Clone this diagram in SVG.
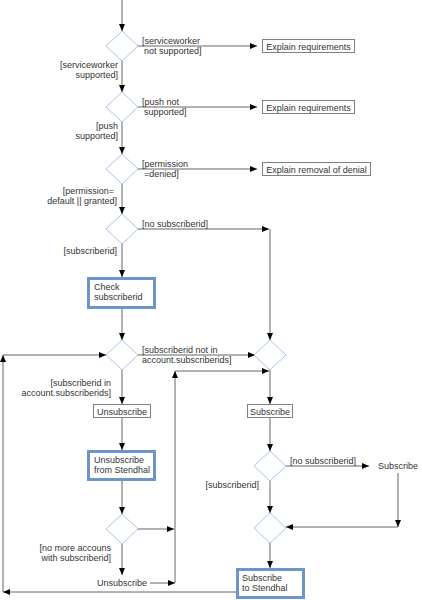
<svg xmlns="http://www.w3.org/2000/svg" width="422" height="600" viewBox="0 0 422 600">
<style>
text{font-family:"Liberation Sans",Arial,sans-serif;font-size:9px;fill:#333}
.d{fill:#fff;stroke:#a9c4eb;stroke-width:1}
.b{fill:#fff;stroke:#808080;stroke-width:1}
.t{fill:#fff;stroke:#6d95c9;stroke-width:3}
.c{fill:none;stroke:#666;stroke-width:1}
.r{text-anchor:end}
.m{text-anchor:middle}
</style>
<defs>
<marker id="a" markerUnits="userSpaceOnUse" markerWidth="7" markerHeight="6" refX="7" refY="3" orient="auto">
<path d="M0,0 L7,3 L0,6 z" fill="#000"/>
</marker>
</defs>
<g id="connectors" class="c" marker-end="url(#a)">
<path class="c" d="M122,0 V31" marker-end="url(#a)"/>
<path class="c" d="M138,46 H257" marker-end="url(#a)"/>
<path class="c" d="M122,61 V92" marker-end="url(#a)"/>
<path class="c" d="M138,107 H257" marker-end="url(#a)"/>
<path class="c" d="M122,122 V154" marker-end="url(#a)"/>
<path class="c" d="M138,169 H257" marker-end="url(#a)"/>
<path class="c" d="M122,184 V214" marker-end="url(#a)"/>
<path class="c" d="M138,229 H269" marker-end="url(#a)"/>
<path class="c" d="M270,229 V340" marker-end="url(#a)"/>
<path class="c" d="M122,244 V277" marker-end="url(#a)"/>
<path class="c" d="M122,309 V340" marker-end="url(#a)"/>
<path class="c" d="M138,355 H255" marker-end="url(#a)"/>
<path class="c" d="M236,592 H3" marker-end="url(#a)"/>
<path class="c" d="M3,592 V355" marker-end="url(#a)"/>
<path class="c" d="M3,355 H106" marker-end="url(#a)"/>
<path class="c" d="M122,370 V404" marker-end="url(#a)"/>
<path class="c" d="M122,418 V450" marker-end="url(#a)"/>
<path class="c" d="M122,481 V514" marker-end="url(#a)"/>
<path class="c" d="M122,544 V575" marker-end="url(#a)"/>
<path class="c" d="M150,583 H175" marker-end="url(#a)"/>
<path class="c" d="M175,583 V371" marker-end="url(#a)"/>
<path class="c" d="M175,371 H269" marker-end="url(#a)"/>
<path class="c" d="M138,529 H174" marker-end="url(#a)"/>
<path class="c" d="M270,370 V404" marker-end="url(#a)"/>
<path class="c" d="M270,418 V451" marker-end="url(#a)"/>
<path class="c" d="M286,466 H369" marker-end="url(#a)"/>
<path class="c" d="M398,473 V527" marker-end="url(#a)"/>
<path class="c" d="M398,527 H286" marker-end="url(#a)"/>
<path class="c" d="M270,481 V513" marker-end="url(#a)"/>
<path class="c" d="M270,543 V568" marker-end="url(#a)"/>
</g>
<g id="labels">
<text x="142" y="44">[serviceworker</text>
<text x="144" y="54">not supported]</text>
<text class="r" x="118" y="68">[serviceworker</text>
<text class="r" x="118" y="78">supported]</text>
<text x="142" y="105">[push not</text>
<text x="144" y="115">supported]</text>
<text class="r" x="118" y="129">[push</text>
<text class="r" x="118" y="139">supported]</text>
<text x="142" y="167">[permission</text>
<text x="144" y="177">=denied]</text>
<text class="r" x="114" y="194">[permission=</text>
<text class="r" x="117" y="204">default || granted]</text>
<text x="142" y="227">[no subscriberid]</text>
<text class="r" x="117" y="254">[subscriberid]</text>
<text x="142" y="353">[subscriberid not in</text>
<text x="142" y="363">account.subscriberids]</text>
<text class="r" x="111" y="386">[subscriberid in</text>
<text class="r" x="111" y="396">account.subscriberids]</text>
<text class="r" x="111" y="551">[no more accouns</text>
<text class="r" x="111" y="561">with subscriberid]</text>
<text x="290" y="464">[no subscriberid]</text>
<text class="r" x="259" y="488">[subscriberid]</text>
</g>
<g id="d1"><polygon class="d" points="106,46 122,31 138,46 122,61"/></g>
<g id="d2"><polygon class="d" points="106,107 122,92 138,107 122,122"/></g>
<g id="d3"><polygon class="d" points="106,169 122,154 138,169 122,184"/></g>
<g id="d4"><polygon class="d" points="106,229 122,214 138,229 122,244"/></g>
<g id="d5"><polygon class="d" points="254,355 270,340 286,355 270,370"/></g>
<g id="d6"><polygon class="d" points="106,355 122,340 138,355 122,370"/></g>
<g id="d7"><polygon class="d" points="106,529 122,514 138,529 122,544"/></g>
<g id="d8"><polygon class="d" points="254,466 270,451 286,466 270,481"/></g>
<g id="d9"><polygon class="d" points="254,528 270,513 286,528 270,543"/></g>
<g id="explain1"><rect class="b" x="262.5" y="39.5" width="92" height="13"/><text class="m" x="308.5" y="49.5">Explain requirements</text></g>
<g id="explain2"><rect class="b" x="262.5" y="100.5" width="92" height="13"/><text class="m" x="308.5" y="110.5">Explain requirements</text></g>
<g id="explain3"><rect class="b" x="262.5" y="162.5" width="108" height="13"/><text class="m" x="316.5" y="172.5">Explain removal of denial</text></g>
<g id="check"><rect class="t" x="88.5" y="278.5" width="66" height="29"/><text x="94" y="290">Check</text><text x="94" y="300">subscriberid</text></g>
<g id="unsubscribe1"><rect class="b" x="93.5" y="404.5" width="57" height="13"/><text class="m" x="122" y="414.5">Unsubscribe</text></g>
<g id="unsubscribeStendhal"><rect class="t" x="88.5" y="451.5" width="66" height="28"/><text x="94" y="463">Unsubscribe</text><text x="94" y="473">from Stendhal</text></g>
<g id="unsubscribe2"><text class="m" x="122" y="586">Unsubscribe</text></g>
<g id="subscribe1"><rect class="b" x="247.5" y="404.5" width="45" height="13"/><text class="m" x="270" y="414.5">Subscribe</text></g>
<g id="subscribe2"><text x="378" y="469">Subscribe</text></g>
<g id="subscribeStendhal"><rect class="t" x="237.5" y="569.5" width="66" height="28"/><text x="242" y="581">Subscribe</text><text x="242" y="591">to Stendhal</text></g>
</svg>
